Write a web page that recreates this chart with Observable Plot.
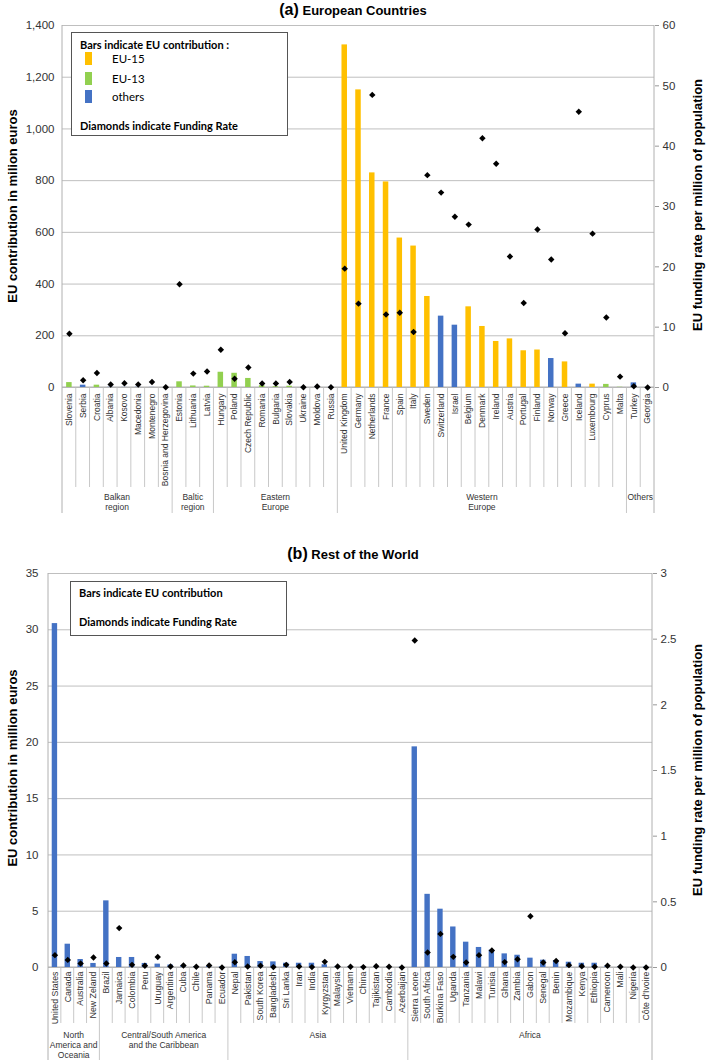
<!DOCTYPE html>
<html>
<head>
<meta charset="utf-8">
<script src="https://cdn.jsdelivr.net/npm/d3@7"></script>
<script src="https://cdn.jsdelivr.net/npm/@observablehq/plot@0.6"></script>
<style>
  body { margin: 0; background: #fff; font-family: "Liberation Sans", Arial, sans-serif; }
  #wrap { position: relative; width: 706px; height: 1060px; overflow: hidden; }
  .title { position: absolute; left: 0; width: 706px; text-align: center; font-weight: bold; font-size: 13px; line-height: 18px; color: #000; }
  .title .p { font-size: 16px; }
  .chart { position: absolute; left: 0; }
  .ytitle { position: absolute; white-space: nowrap; font-weight: bold; font-size: 13px; color: #000;
            transform: translate(-50%, -50%) rotate(-90deg); }
  .legend { position: absolute; box-sizing: border-box; border: 1px solid #555; background: #fff;
            font-family: Lato, "Noto Sans", sans-serif; color: #000; }
  .legend .b { position: absolute; font-weight: bold; font-size: 11px; line-height: 14px; white-space: nowrap; }
  .legend .r { position: absolute; font-size: 11.5px; line-height: 14px; white-space: nowrap; }
  .legend .sw { position: absolute; width: 7px; height: 13px; }
</style>
</head>
<body>
<div id="wrap">
  <div class="title" style="top:1px"><span class="p">(a)</span> European Countries</div>
  <div class="chart" id="chartA" style="top:18px"></div>
  <div class="ytitle" style="left:12px; top:206px">EU contribution in milion euros</div>
  <div class="ytitle" style="left:697px; top:205px">EU funding rate per million of population</div>
  <div class="legend" style="left:71px; top:32px; width:217px; height:104px">
    <div class="b" style="left:8px; top:5px">Bars indicate EU contribution :</div>
    <div class="sw" id="swA0" style="left:13px; top:19px"></div>
    <div class="r" id="lgA0" style="left:40px; top:19px"></div>
    <div class="sw" id="swA1" style="left:13px; top:39px"></div>
    <div class="r" id="lgA1" style="left:40px; top:39px"></div>
    <div class="sw" id="swA2" style="left:13px; top:57px"></div>
    <div class="r" id="lgA2" style="left:40px; top:57px"></div>
    <div class="b" style="left:8px; top:86px">Diamonds indicate Funding Rate</div>
  </div>

  <div class="title" style="top:545px"><span class="p">(b)</span> Rest of the World</div>
  <div class="chart" id="chartB" style="top:565px"></div>
  <div class="ytitle" style="left:12px; top:768px">EU contribution in million euros</div>
  <div class="ytitle" style="left:697px; top:770px">EU funding rate per million of population</div>
  <div class="legend" style="left:70px; top:581px; width:217px; height:55px">
    <div class="b" style="left:8px; top:4px">Bars indicate EU contribution</div>
    <div class="b" style="left:8px; top:33px">Diamonds indicate Funding Rate</div>
  </div>
</div>
<script>
// ---------------- (a) European Countries ----------------
const countriesA = ["Slovenia","Serbia","Croatia","Albania","Kosovo","Macedonia","Montenegro","Bosnia and Herzegovina",
  "Estonia","Lithuania","Latvia",
  "Hungary","Poland","Czech Republic","Romania","Bulgaria","Slovakia","Ukraine","Moldova","Russia",
  "United Kingdom","Germany","Netherlands","France","Spain","Italy","Sweden","Switzerland","Israel","Belgium","Denmark",
  "Ireland","Austria","Portugal","Finland","Norway","Greece","Iceland","Luxembourg","Cyprus","Malta",
  "Turkey","Georgia"];
const contributionA = [19,9,9,1,0.5,1,0.5,0.3,
  22,6,5,
  59,55,35,7,3,5,0.5,0.5,0.5,
  1325,1151,830,795,578,547,352,276,241,312,236,
  178,188,142,145,112,99,13,13,12,1,
  18,0.5];
const rateA = [8.9,1.2,2.4,0.5,0.7,0.5,0.9,0.05,
  17.1,2.3,2.65,
  6.25,1.45,3.3,0.66,0.66,0.9,0.05,0.17,0.05,
  19.7,13.9,48.5,12.1,12.4,9.2,35.2,32.3,28.3,27.0,41.3,
  37.1,21.7,14.0,26.2,21.2,9.0,45.7,25.5,11.6,1.8,
  0.2,0.0];
const blocA = ["EU-13","others","EU-13","others","others","others","others","others",
  "EU-13","EU-13","EU-13",
  "EU-13","EU-13","EU-13","EU-13","EU-13","EU-13","others","others","others",
  "EU-15","EU-15","EU-15","EU-15","EU-15","EU-15","EU-15","others","others","EU-15","EU-15",
  "EU-15","EU-15","EU-15","EU-15","others","EU-15","others","EU-15","EU-13","EU-13",
  "others","others"];
const groupNamesA = ["Balkan\nregion","Baltic\nregion","Eastern\nEurope","Western\nEurope","Others"];
const groupSizesA = [8,3,9,21,2];
const leftTicksA = [0,200,400,600,800,1000,1200,1400];
const rateTicksA = [0,10,20,30,40,50,60];
const blocNames = ["EU-15","EU-13","others"];
const blocColors = ["#FFC000","#92D050","#4472C4"];

// ---------------- (b) Rest of the World ----------------
const countriesB = ["United States","Canada","Australia","New Zeland",
  "Brazil","Jamaica","Colombia","Peru","Uruguay","Argentina","Cuba","Chile","Panama","Ecuador",
  "Nepal","Pakistan","South Korea","Bangladesh","Sri Lanka","Iran","India","Kyrgyzstan","Malaysia","Vietnam","China","Tajikistan","Cambodia","Azerbaijan",
  "Sierra Leone","South Africa","Burkina Faso","Uganda","Tanzania","Malawi","Tunisia","Ghana","Zambia","Gabon","Senegal","Benin","Mozambique","Kenya","Ethiopia","Cameroon","Mali","Nigeria","Côte d'Ivoire"];
const contributionB = [30.55,2.07,0.71,0.36,
  5.92,0.89,0.89,0.36,0.3,0.22,0.15,0.08,0.1,0.05,
  1.18,0.98,0.53,0.5,0.38,0.38,0.38,0.24,0.1,0.05,0.05,0.05,0.05,0.03,
  19.6,6.5,5.18,3.6,2.25,1.78,1.54,1.21,1.09,0.83,0.65,0.62,0.47,0.38,0.38,0.12,0.06,0.03,0.03];
const rateB = [0.094,0.058,0.03,0.076,
  0.03,0.30,0.02,0.013,0.08,0.008,0.015,0.005,0.015,0.0,
  0.04,0.008,0.013,0.003,0.02,0.008,0.003,0.043,0.008,0.005,0.003,0.01,0.005,0.0,
  2.49,0.114,0.256,0.081,0.038,0.094,0.129,0.041,0.063,0.39,0.038,0.05,0.018,0.01,0.005,0.013,0.005,0.0,0.0];
const groupNamesB = ["North\nAmerica and\nOceania","Central/South America\nand the Caribbean","Asia","Africa"];
const groupSizesB = [4,10,14,19];
const leftTicksB = [0,5,10,15,20,25,30,35];
const rateTicksB = [0,0.5,1,1.5,2,2.5,3];

// legend swatches
blocNames.forEach((n, i) => {
  document.getElementById("swA" + i).style.background = blocColors[i];
  document.getElementById("lgA" + i).textContent = n;
});

const FONT = "'Liberation Sans', Arial, sans-serif";
const LINE = "#BFBFBF";

// render-function mark: axis frame, category separators and group labels
function categoryFrame(groupNames, groupSizes, o) {
  return function(index, scales, values, dim) {
    const x = scales.x;
    const dom = x.domain();
    const bw = typeof x.bandwidth === "function" ? x.bandwidth() : 0;
    const c = dom.map(d => x(d) + bw / 2);
    const step = c[1] - c[0];
    const b = c.map(v => v - step / 2);
    b.push(c[c.length - 1] + step / 2);
    const top = dim.marginTop, y0 = dim.height - dim.marginBottom;
    const g = d3.create("svg:g").attr("fill", "none");
    const edges = new Set([0]);
    let acc = 0;
    groupSizes.forEach(s => { acc += s; edges.add(acc); });
    b.forEach((xb, i) => {
      const outer = i === 0 || i === b.length - 1;
      g.append("line")
        .attr("x1", xb).attr("x2", xb)
        .attr("y1", outer ? top : y0)
        .attr("y2", y0 + (edges.has(i) ? o.groupLen : o.sepLen))
        .attr("stroke", outer ? "#B0B0B0" : "#C8C8C8");
    });
    g.append("line").attr("x1", b[0]).attr("x2", b[b.length - 1])
      .attr("y1", y0).attr("y2", y0).attr("stroke", "#B0B0B0");
    let start = 0;
    groupNames.forEach((name, gi) => {
      const end = start + groupSizes[gi];
      const cx = (b[start] + b[end]) / 2;
      const t = g.append("text").attr("text-anchor", "middle").attr("font-size", o.fontSize)
        .attr("fill", "#333").attr("stroke", "none").attr("font-family", FONT);
      name.split("\n").forEach((line, li) => {
        t.append("tspan").attr("x", cx).attr("y", y0 + o.labelY + li * o.lineH).attr("dy", "0.35em").text(line);
      });
      start = end;
    });
    return g.node();
  };
}

// ---- chart (a)
const kA = 1400 / 60;
const dataA = countriesA.map((c, i) => ({country: c, value: contributionA[i], rate: rateA[i], bloc: blocA[i]}));
const plotA = Plot.plot({
  width: 706, height: 502,
  marginTop: 7, marginBottom: 133, marginLeft: 62, marginRight: 52,
  style: {fontFamily: FONT, fontSize: "11.5px", color: "#333", background: "transparent"},
  x: {domain: countriesA, paddingInner: 0.6, paddingOuter: 0.3, label: null},
  y: {domain: [0, 1400], label: null},
  color: {domain: blocNames, range: blocColors},
  marks: [
    Plot.ruleY(leftTicksA, {stroke: LINE, strokeWidth: 1}),
    categoryFrame(groupNamesA, groupSizesA, {sepLen: 100, groupLen: 126, labelY: 110, lineH: 10, fontSize: 8.5}),
    Plot.barY(dataA, {x: "country", y: "value", fill: "bloc"}),
    Plot.dot(dataA, {x: "country", y: d => d.rate * kA, symbol: "diamond2", r: 2.9, fill: "#000", stroke: "none"}),
    Plot.axisY(leftTicksA, {anchor: "left", tickSize: 0, tickPadding: 8, tickFormat: d3.format(","), label: null, fontSize: 11.5}),
    Plot.axisY(rateTicksA.map(r => r * kA), {anchor: "right", tickSize: 4, tickPadding: 4, stroke: "#999",
      tickFormat: v => String(Math.round(v / kA)), label: null, fontSize: 11.5}),
    Plot.axisX({tickRotate: -90, tickSize: 0, tickPadding: 6, label: null, fontSize: 8.5})
  ]
});
document.getElementById("chartA").appendChild(plotA);

// ---- chart (b)
const kB = 35 / 3;
const dataB = countriesB.map((c, i) => ({country: c, value: contributionB[i], rate: rateB[i]}));
const plotB = Plot.plot({
  width: 706, height: 495,
  marginTop: 8, marginBottom: 93, marginLeft: 48, marginRight: 54,
  style: {fontFamily: FONT, fontSize: "11.5px", color: "#333", background: "transparent"},
  x: {domain: countriesB, paddingInner: 0.58, paddingOuter: 0.29, label: null},
  y: {domain: [0, 35], label: null},
  marks: [
    Plot.ruleY(leftTicksB, {stroke: LINE, strokeWidth: 1}),
    categoryFrame(groupNamesB, groupSizesB, {sepLen: 56, groupLen: 93, labelY: 68, lineH: 10, fontSize: 8.5}),
    Plot.barY(dataB, {x: "country", y: "value", fill: "#4472C4"}),
    Plot.dot(dataB, {x: "country", y: d => d.rate * kB, symbol: "diamond2", r: 2.9, fill: "#000", stroke: "none"}),
    Plot.axisY(leftTicksB, {anchor: "left", tickSize: 0, tickPadding: 10, label: null, fontSize: 11.5}),
    Plot.axisY(rateTicksB.map(r => r * kB), {anchor: "right", tickSize: 4, tickPadding: 4, stroke: "#999",
      tickFormat: v => String(+(v / kB).toFixed(2)), label: null, fontSize: 11.5}),
    Plot.axisX({tickRotate: -90, tickSize: 0, tickPadding: 4, label: null, fontSize: 8.8})
  ]
});
document.getElementById("chartB").appendChild(plotB);
</script>
</body>
</html>
